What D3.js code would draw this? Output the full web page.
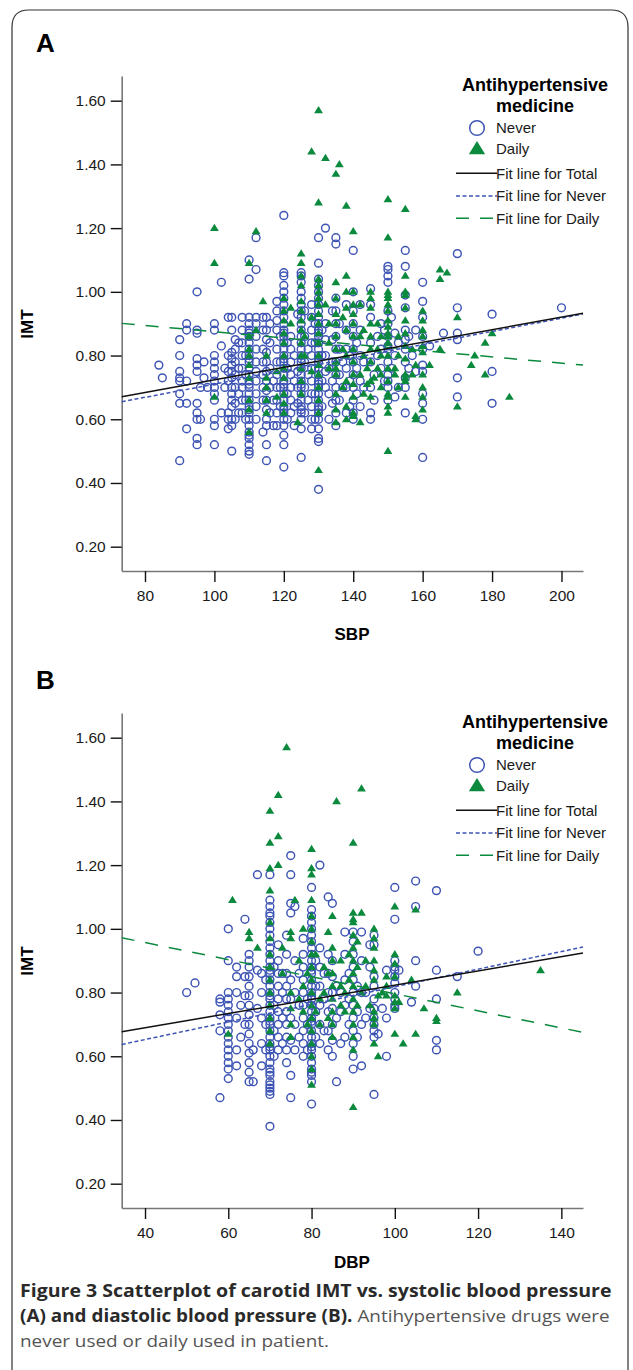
<!DOCTYPE html>
<html>
<head>
<meta charset="utf-8">
<script src="https://cdn.jsdelivr.net/npm/d3@7"></script>
<style>
  html, body { margin: 0; padding: 0; background: #fff; }
  svg { display: block; }
</style>
</head>
<body>
<svg id="figure"></svg>
<script>
// ---- values ----
const sbpTicks = [80, 100, 120, 140, 160, 180, 200];
const dbpTicks = [40, 60, 80, 100, 120, 140];
const imtTicks = [0.2, 0.4, 0.6, 0.8, 1.0, 1.2, 1.4, 1.6];
const legendTitle = ['Antihypertensive', 'medicine'];
const legendLabels = ['Never', 'Daily', 'Fit line for Total', 'Fit line for Never', 'Fit line for Daily'];

// [SBP, [IMT values in that column]]
const sbpNever = [
  [84, [0.77]], [85, [0.73]],
  [90, [0.47, 0.65, 0.68, 0.72, 0.73, 0.75, 0.80, 0.85]],
  [92, [0.57, 0.65, 0.72, 0.88, 0.90]],
  [95, [0.52, 0.54, 0.60, 0.62, 0.65, 0.75, 0.77, 0.79, 0.87, 0.88, 1.00]],
  [96, [0.60, 0.70]],
  [97, [0.73, 0.78]], [98, [0.70]],
  [100, [0.52, 0.58, 0.60, 0.66, 0.68, 0.70, 0.72, 0.74, 0.76, 0.78, 0.80, 0.88, 0.90]],
  [102, [0.62, 0.83, 1.03]], [103, [0.70, 0.76]],
  [104, [0.57, 0.60, 0.62, 0.72, 0.75, 0.80, 0.92]],
  [105, [0.50, 0.58, 0.60, 0.64, 0.66, 0.68, 0.70, 0.73, 0.75, 0.77, 0.79, 0.81, 0.88, 0.92]],
  [106, [0.60, 0.65, 0.70, 0.74, 0.78, 0.82, 0.85]],
  [107, [0.62, 0.68, 0.76, 0.84]],
  [108, [0.62, 0.66, 0.70, 0.72, 0.76, 0.80, 0.84, 0.88, 0.92]],
  [109, [0.60, 0.66, 0.74, 0.80]],
  [110, [0.49, 0.50, 0.52, 0.54, 0.55, 0.56, 0.58, 0.60, 0.62, 0.63, 0.64, 0.66, 0.68, 0.70, 0.71, 0.72, 0.74, 0.76, 0.78, 0.79, 0.80, 0.82, 0.84, 0.86, 0.87, 0.88, 0.90, 0.92, 1.04, 1.10]],
  [112, [0.60, 0.64, 0.68, 0.72, 0.75, 0.78, 0.82, 0.86, 0.90, 0.92, 1.07, 1.17]],
  [114, [0.56, 0.66, 0.70, 0.74, 0.78, 0.82, 0.88, 0.92]],
  [115, [0.47, 0.52, 0.58, 0.60, 0.63, 0.66, 0.69, 0.72, 0.75, 0.78, 0.81, 0.85, 0.88, 0.92]],
  [116, [0.62, 0.70, 0.76, 0.84, 0.90]],
  [117, [0.58, 0.66, 0.72]],
  [118, [0.58, 0.62, 0.66, 0.70, 0.74, 0.78, 0.82, 0.88, 0.91, 0.94, 0.97]],
  [119, [0.64, 0.70, 0.78, 0.86]],
  [120, [0.45, 0.52, 0.55, 0.58, 0.60, 0.62, 0.63, 0.64, 0.66, 0.68, 0.70, 0.71, 0.72, 0.74, 0.76, 0.78, 0.79, 0.80, 0.82, 0.84, 0.86, 0.87, 0.88, 0.90, 0.92, 0.94, 0.96, 0.98, 1.00, 1.02, 1.05, 1.06, 1.24]],
  [121, [0.60, 0.68, 0.76, 0.84]],
  [122, [0.62, 0.66, 0.70, 0.74, 0.78, 0.82, 0.86]],
  [123, [0.58, 0.64, 0.72, 0.80]],
  [124, [0.65, 0.70, 0.75, 0.93]],
  [125, [0.48, 0.57, 0.60, 0.62, 0.63, 0.64, 0.66, 0.68, 0.70, 0.71, 0.72, 0.74, 0.76, 0.78, 0.79, 0.80, 0.82, 0.84, 0.86, 0.88, 0.90, 0.92, 0.94, 0.96, 0.98, 1.00, 1.03, 1.05, 1.06]],
  [126, [0.62, 0.70, 0.78, 0.86, 0.94]],
  [127, [0.66, 0.74, 0.82]],
  [128, [0.57, 0.60, 0.64, 0.68, 0.72, 0.76, 0.80, 0.84, 0.88, 0.92, 0.96]],
  [129, [0.60, 0.68, 0.76, 0.84, 0.90]],
  [130, [0.38, 0.53, 0.54, 0.57, 0.60, 0.62, 0.63, 0.64, 0.66, 0.68, 0.70, 0.71, 0.72, 0.74, 0.76, 0.78, 0.79, 0.80, 0.82, 0.84, 0.86, 0.87, 0.88, 0.90, 0.92, 0.94, 0.96, 0.98, 1.00, 1.02, 1.04, 1.09, 1.17]],
  [131, [0.64, 0.72, 0.80, 0.88]],
  [132, [0.70, 0.75, 0.80, 0.85, 0.90, 1.20]],
  [133, [0.60, 0.68, 0.76]],
  [134, [0.65, 0.72, 0.78, 0.85, 0.94]],
  [135, [0.58, 0.62, 0.66, 0.70, 0.74, 0.78, 0.82, 0.86, 0.90, 0.94, 0.98, 1.15, 1.17]],
  [136, [0.66, 0.74, 0.82, 0.90]],
  [137, [0.70, 0.78]],
  [138, [0.62, 0.70, 0.76, 0.82, 0.88, 0.96]],
  [139, [0.64, 0.72, 0.80]],
  [140, [0.60, 0.62, 0.66, 0.70, 0.74, 0.78, 0.82, 0.86, 0.90, 0.94, 1.00, 1.13]],
  [141, [0.68, 0.76, 0.84]],
  [142, [0.64, 0.72, 0.80, 0.88, 0.96]],
  [143, [0.70, 0.78]],
  [145, [0.60, 0.62, 0.70, 0.78, 0.84, 0.92, 0.96, 1.01]],
  [146, [0.66, 0.74]], [147, [0.80, 0.86]],
  [148, [0.76, 0.82, 0.90]], [149, [0.72, 0.88]],
  [150, [0.66, 0.70, 0.72, 0.74, 0.78, 0.82, 0.83, 0.86, 0.90, 0.94, 1.03, 1.05, 1.07, 1.08]],
  [151, [0.76, 0.92]],
  [152, [0.67, 0.80, 0.87]], [153, [0.70, 0.84]],
  [155, [0.62, 0.70, 0.73, 0.78, 0.82, 0.85, 0.88, 0.95, 0.99, 1.08, 1.13]],
  [156, [0.76, 0.86]], [157, [0.80]],
  [158, [0.75, 0.88]],
  [160, [0.48, 0.60, 0.65, 0.68, 0.75, 0.77, 0.82, 0.86, 0.92, 0.97, 1.03]],
  [162, [0.83]], [166, [0.87]],
  [170, [0.67, 0.73, 0.85, 0.87, 0.95, 1.12]],
  [180, [0.65, 0.75, 0.93]],
  [200, [0.95]]
];

const sbpDaily = [
  [100, [0.67, 1.09, 1.20]],
  [110, [0.56, 0.63, 0.66, 0.73, 0.77, 0.80, 0.82, 0.86, 1.09]],
  [112, [0.88, 1.19]], [114, [0.97]],
  [115, [0.62, 0.66, 0.70, 0.73, 0.80]],
  [118, [0.67, 0.75]],
  [120, [0.62, 0.65, 0.68, 0.73, 0.76, 0.80, 0.84, 0.87, 0.91, 0.94, 0.98]],
  [122, [0.90, 0.95]], [124, [0.59]],
  [125, [0.68, 0.72, 0.76, 0.80, 0.84, 0.88, 0.91, 0.94, 0.97, 1.02, 1.05, 1.09, 1.12]],
  [126, [0.80, 0.86]],
  [128, [0.75, 0.92, 1.44]],
  [130, [0.44, 0.62, 0.66, 0.70, 0.74, 0.77, 0.80, 0.84, 0.87, 0.90, 0.93, 0.96, 0.98, 1.00, 1.02, 1.04, 1.28, 1.57]],
  [132, [0.96, 1.42]], [133, [0.76, 0.84, 0.90]],
  [135, [0.59, 0.63, 0.68, 0.74, 0.76, 0.78, 0.82, 0.86, 0.90, 0.93, 0.98, 1.03, 1.37]],
  [136, [1.40]], [137, [0.70, 0.82, 0.92]],
  [138, [0.60, 0.64, 0.72, 0.80, 0.88, 0.95, 1.00, 1.05, 1.27]],
  [140, [0.61, 0.62, 0.67, 0.71, 0.74, 0.78, 0.82, 0.86, 0.90, 0.93, 0.96, 1.00, 1.19]],
  [142, [0.59, 0.74, 0.86, 0.96]], [143, [0.68, 0.80, 0.88]],
  [144, [0.71, 0.76]],
  [145, [0.67, 0.72, 0.78, 0.82, 0.86, 0.90, 0.95, 0.98, 1.00]],
  [146, [0.73]], [147, [0.76, 0.82, 0.90]],
  [148, [0.70, 0.74, 0.80, 0.86]],
  [150, [0.50, 0.62, 0.64, 0.67, 0.68, 0.72, 0.76, 0.80, 0.84, 0.86, 0.87, 0.89, 0.91, 0.94, 0.96, 0.98, 0.99, 1.00, 1.17, 1.29]],
  [152, [0.74, 0.76]], [153, [0.70, 0.80, 0.86]],
  [155, [0.67, 0.72, 0.73, 0.74, 0.79, 0.83, 0.87, 0.91, 0.95, 0.99, 1.00, 1.05, 1.26]],
  [157, [0.74, 0.82]],
  [158, [0.60, 0.61, 0.77]],
  [160, [0.63, 0.67, 0.70, 0.74, 0.81, 0.83, 0.86, 0.88, 0.91, 0.94]],
  [162, [0.77]], [165, [0.82, 1.04, 1.07]], [167, [1.06]],
  [170, [0.64, 0.92]], [174, [0.77]], [175, [0.80]],
  [178, [0.74, 0.84]], [180, [0.87]], [185, [0.67]]
];

// [DBP, [IMT values in that column]]
const dbpNever = [
  [50, [0.80]], [52, [0.83]],
  [58, [0.47, 0.68, 0.73, 0.77, 0.78]],
  [60, [0.53, 0.56, 0.58, 0.60, 0.62, 0.64, 0.66, 0.68, 0.70, 0.72, 0.74, 0.76, 0.78, 0.80, 0.90, 1.00]],
  [62, [0.57, 0.62, 0.72, 0.80, 0.85, 0.88]], [63, [0.66, 0.76]],
  [64, [0.70, 0.79, 0.85, 1.03]],
  [65, [0.52, 0.55, 0.58, 0.61, 0.64, 0.67, 0.70, 0.73, 0.76, 0.79, 0.82, 0.85, 0.88, 0.90, 0.92]],
  [66, [0.52, 0.62]],
  [67, [0.75, 0.87, 1.17]],
  [68, [0.57, 0.64, 0.72, 0.80, 0.86]], [69, [0.62, 0.70, 0.84]],
  [70, [0.38, 0.48, 0.49, 0.50, 0.51, 0.52, 0.54, 0.55, 0.56, 0.58, 0.60, 0.62, 0.63, 0.64, 0.66, 0.68, 0.70, 0.71, 0.72, 0.74, 0.76, 0.78, 0.79, 0.80, 0.82, 0.84, 0.86, 0.87, 0.88, 0.90, 0.92, 0.94, 0.96, 0.98, 1.00, 1.02, 1.04, 1.05, 1.07, 1.09, 1.17]],
  [71, [0.60, 0.68, 0.76, 0.88]],
  [72, [0.62, 0.66, 0.70, 0.74, 0.78, 0.82, 0.86, 0.90, 0.95]],
  [73, [0.64, 0.72, 0.80, 0.86]],
  [74, [0.58, 0.62, 0.66, 0.70, 0.74, 0.78, 0.82, 0.86, 0.92, 0.98]],
  [75, [0.47, 0.54, 0.65, 0.72, 0.78, 0.84, 1.05, 1.08, 1.17, 1.23]],
  [76, [0.62, 0.70, 0.80, 0.90, 1.07]], [77, [0.66, 0.76, 0.86]],
  [78, [0.60, 0.64, 0.68, 0.72, 0.76, 0.80, 0.84, 0.88, 0.92, 0.97]],
  [79, [0.62, 0.70, 0.78]],
  [80, [0.45, 0.52, 0.54, 0.55, 0.56, 0.58, 0.60, 0.62, 0.63, 0.64, 0.66, 0.68, 0.70, 0.71, 0.72, 0.74, 0.76, 0.78, 0.79, 0.80, 0.82, 0.84, 0.86, 0.87, 0.88, 0.90, 0.92, 0.94, 0.96, 0.98, 1.00, 1.02, 1.04, 1.06, 1.13]],
  [81, [0.66, 0.74, 0.82, 0.90]],
  [82, [0.64, 0.70, 0.76, 0.82, 0.88, 0.94, 1.20]], [83, [0.68, 0.78, 0.86]],
  [84, [0.62, 0.68, 0.74, 0.80, 0.86, 0.92, 1.10]],
  [85, [0.60, 0.65, 0.70, 0.75, 0.80, 0.85, 0.90, 1.08]],
  [86, [0.52, 0.72, 0.82]], [87, [0.64, 0.74, 0.80]],
  [88, [0.66, 0.76, 0.84, 0.92, 0.99]], [89, [0.70, 0.78, 0.86]],
  [90, [0.56, 0.60, 0.64, 0.68, 0.72, 0.76, 0.80, 0.84, 0.88, 0.92, 0.96, 0.99]],
  [91, [0.66, 0.74, 0.82]],
  [92, [0.57, 0.70, 0.80, 0.90, 0.99]], [93, [0.72, 0.80]],
  [94, [0.75, 0.88, 0.95]],
  [95, [0.48, 0.66, 0.68, 0.70, 0.72, 0.75, 0.78, 0.82, 0.85, 0.95, 0.98]],
  [96, [0.67]], [97, [0.75]],
  [98, [0.60, 0.72, 0.87]],
  [100, [0.75, 0.76, 0.78, 0.80, 0.83, 0.85, 0.87, 0.88, 0.90, 1.03, 1.13]],
  [101, [0.87]], [104, [0.77]],
  [105, [0.82, 0.90, 1.07, 1.15]],
  [110, [0.62, 0.65, 0.78, 0.87, 1.12]],
  [115, [0.85]], [120, [0.93]]
];

const dbpDaily = [
  [60, [0.67]], [61, [1.09]], [65, [0.97, 0.99]], [67, [0.94]],
  [70, [0.64, 0.68, 0.72, 0.76, 0.80, 0.84, 0.88, 0.92, 0.97, 1.02, 1.12, 1.19, 1.27, 1.37]],
  [72, [1.20, 1.29, 1.42]], [73, [0.86, 0.94]],
  [74, [1.57]],
  [75, [0.66, 0.70, 0.75, 0.80, 0.97, 0.99]],
  [76, [1.09]], [77, [0.78, 0.90]],
  [78, [0.74, 0.82, 1.00]], [79, [0.70, 0.86]],
  [80, [0.51, 0.56, 0.60, 0.64, 0.68, 0.72, 0.76, 0.80, 0.84, 0.88, 0.92, 0.96, 1.00, 1.04, 1.09, 1.17, 1.19, 1.25]],
  [81, [0.74, 0.92]],
  [82, [0.70, 0.78]], [83, [0.80, 0.88]],
  [84, [0.72, 0.86, 0.99]],
  [85, [0.66, 0.70, 0.74, 0.78, 0.82, 0.86, 0.90, 0.94, 1.04]],
  [86, [1.40]], [87, [0.76, 0.82, 0.90]],
  [88, [0.74, 0.80]], [89, [0.84, 0.92]],
  [90, [0.44, 0.62, 0.66, 0.70, 0.74, 0.78, 0.82, 0.86, 0.90, 0.94, 0.98, 1.02, 1.03, 1.05, 1.27]],
  [91, [0.76, 0.88, 0.96]],
  [92, [0.80, 1.05, 1.44]], [93, [0.82, 0.90]],
  [94, [0.76]],
  [95, [0.64, 0.70, 0.72, 0.74, 0.84, 0.87, 0.90, 0.94, 0.97, 1.00]],
  [96, [0.60, 0.79]], [97, [0.80]],
  [98, [0.79, 0.82, 0.85]],
  [100, [0.67, 0.75, 0.77, 0.79, 0.85, 0.89, 0.92, 1.07]],
  [101, [0.77]], [102, [0.64]], [104, [0.84]],
  [105, [0.67, 1.06]], [107, [0.75]],
  [110, [0.71, 0.72]], [115, [0.80]], [135, [0.87]]
];

// fit lines: [x, IMT] at the two ends of the plot area
const sbpFitTotal = [[73.3, 0.671], [206.2, 0.933]];
const sbpFitNever = [[73.3, 0.655], [206.2, 0.930]];
const sbpFitDaily = [[73.3, 0.901], [206.2, 0.770]];
const dbpFitTotal = [[34.4, 0.677], [145.2, 0.924]];
const dbpFitNever = [[34.4, 0.637], [145.2, 0.943]];
const dbpFitDaily = [[34.4, 0.972], [145.2, 0.675]];

const captionLines = [
  [['Figure 3 Scatterplot of carotid IMT vs. systolic blood pressure', true]],
  [['(A) and diastolic blood pressure (B).', true], [' Antihypertensive drugs were', false]],
  [['never used or daily used in patient.', false]]
];

// ---- drawing ----
const BLUE = '#3d54b4';
const GREEN = '#0b8a3e';
const FONT = '"Liberation Sans", Arial, Helvetica, sans-serif';
const W = 633, H = 1370;

const triangleType = {
  draw(context, size) {
    const w = Math.sqrt(size) * 1.1, h = w * 0.82;
    context.moveTo(0, -h * 0.6);
    context.lineTo(w / 2, h * 0.4);
    context.lineTo(-w / 2, h * 0.4);
    context.closePath();
  }
};

const svg = d3.select('#figure').attr('width', W).attr('height', H);

drawFrame(svg);
drawPanel(svg, {
  offsetY: 0, label: 'A', xLabel: 'SBP', xLabelY: 640, xDomain: [73.29, 206.2], xTicks: sbpTicks,
  never: sbpNever, daily: sbpDaily, fits: [sbpFitDaily, sbpFitNever, sbpFitTotal]
});
drawPanel(svg, {
  offsetY: 637, label: 'B', xLabel: 'DBP', xLabelY: 631, xDomain: [34.4, 145.2], xTicks: dbpTicks,
  never: dbpNever, daily: dbpDaily, fits: [dbpFitDaily, dbpFitNever, dbpFitTotal]
});
drawCaption(svg);

function drawFrame(svg) {
  svg.append('path')
    .attr('d', 'M12,1380 V27 Q12,10 29,10 H611 Q628,10 628,27 V1380')
    .attr('fill', 'none')
    .attr('stroke', '#333')
    .attr('stroke-width', 1.2);
}

function flatten(cols) {
  return cols.flatMap(([x, ys]) => ys.map(y => ({ x, y })));
}

function lineStyle(i) {
  // 0 daily, 1 never, 2 total
  return [
    { stroke: GREEN, dash: '13,11' },
    { stroke: BLUE, dash: '4,2.5' },
    { stroke: '#111', dash: null }
  ][i];
}

function drawPanel(svg, cfg) {
  const g = svg.append('g').attr('transform', `translate(0, ${cfg.offsetY})`);
  const x = d3.scaleLinear().domain(cfg.xDomain).range([121.7, 583]);
  const y = d3.scaleLinear().domain([0.1237, 1.6775]).range([571, 76]);

  g.append('text')
    .attr('x', 36).attr('y', 52)
    .attr('font-family', FONT).attr('font-weight', 'bold').attr('font-size', 26)
    .text(cfg.label);

  // axes
  const yAxis = d3.axisLeft(y).tickValues(imtTicks).tickFormat(d3.format('.2f'))
    .tickSize(11).tickSizeOuter(0).tickPadding(5);
  const xAxis = d3.axisBottom(x).tickValues(cfg.xTicks)
    .tickSize(11).tickSizeOuter(0).tickPadding(8);

  const yg = g.append('g').attr('transform', 'translate(121.7,0)').call(yAxis);
  const xg = g.append('g').attr('transform', 'translate(0,571)').call(xAxis);
  [yg, xg].forEach(a => {
    a.attr('font-family', FONT).attr('font-size', 15.5);
    a.select('.domain').attr('stroke', '#777').attr('stroke-width', 1.6);
    a.selectAll('.tick line').attr('stroke', '#111').attr('stroke-width', 1.4);
    a.selectAll('.tick text').attr('fill', '#1a1a1a');
  });

  g.append('text')
    .attr('x', 352).attr('y', cfg.xLabelY)
    .attr('text-anchor', 'middle')
    .attr('font-family', FONT).attr('font-weight', 'bold').attr('font-size', 17)
    .text(cfg.xLabel);
  g.append('text')
    .attr('transform', 'translate(33,324) rotate(-90)')
    .attr('text-anchor', 'middle')
    .attr('font-family', FONT).attr('font-weight', 'bold').attr('font-size', 17)
    .text('IMT');

  // points
  g.append('g').selectAll('circle')
    .data(flatten(cfg.never))
    .enter().append('circle')
    .attr('cx', d => x(d.x))
    .attr('cy', d => y(d.y))
    .attr('r', 3.9)
    .attr('fill', 'none')
    .attr('stroke', BLUE)
    .attr('stroke-width', 1.45);

  const tri = d3.symbol().type(triangleType).size(64);
  g.append('g').selectAll('path')
    .data(flatten(cfg.daily))
    .enter().append('path')
    .attr('transform', d => `translate(${x(d.x)},${y(d.y)})`)
    .attr('d', tri)
    .attr('fill', GREEN);

  // fit lines
  const line = d3.line().x(d => x(d[0])).y(d => y(d[1]));
  cfg.fits.forEach((f, i) => {
    const s = lineStyle(i);
    g.append('path')
      .attr('d', line(f))
      .attr('fill', 'none')
      .attr('stroke', s.stroke)
      .attr('stroke-width', 1.5)
      .attr('stroke-dasharray', s.dash);
  });

  drawLegend(g);
}

function drawLegend(g) {
  const lg = g.append('g');
  legendTitle.forEach((t, i) => {
    lg.append('text')
      .attr('x', 535).attr('y', 90.5 + i * 21)
      .attr('text-anchor', 'middle')
      .attr('font-family', FONT).attr('font-weight', 'bold').attr('font-size', 18)
      .text(t);
  });
  const rows = [128, 149, 173.3, 196, 218.3];
  legendLabels.forEach((t, i) => {
    lg.append('text')
      .attr('x', 496).attr('y', rows[i] + 5.3)
      .attr('font-family', FONT).attr('font-size', 15)
      .attr('fill', '#1a1a1a')
      .text(t);
  });
  lg.append('circle')
    .attr('cx', 477).attr('cy', rows[0]).attr('r', 7.3)
    .attr('fill', 'none').attr('stroke', BLUE).attr('stroke-width', 1.5);
  lg.append('path')
    .attr('transform', `translate(477,${rows[1]})`)
    .attr('d', d3.symbol().type(triangleType).size(220))
    .attr('fill', GREEN);
  [2, 1, 0].forEach((si, k) => {
    const s = lineStyle(si);
    lg.append('line')
      .attr('x1', 456).attr('x2', 497)
      .attr('y1', rows[2 + k]).attr('y2', rows[2 + k])
      .attr('stroke', s.stroke).attr('stroke-width', 1.5)
      .attr('stroke-dasharray', s.dash);
  });
}

function drawCaption(svg) {
  const cg = svg.append('g');
  const targets = [592, 590, null];
  let lastK = 1;
  captionLines.forEach((parts, i) => {
    const by = 1297 + i * 25;
    const t = cg.append('text')
      .attr('x', 20).attr('y', by)
      .attr('font-family', '"Open Sans", "Noto Sans", sans-serif')
      .attr('font-size', 17);
    parts.forEach(([s, bold]) => {
      t.append('tspan')
        .attr('font-weight', bold ? 'bold' : 'normal')
        .attr('fill', bold ? '#2a2a2a' : '#555')
        .text(s);
    });
    const k = targets[i] ? targets[i] / t.node().getComputedTextLength() : lastK;
    lastK = k;
    t.attr('transform', `translate(20,${by}) scale(${k},1) translate(-20,${-by})`);
  });
}
</script>
</body>
</html>
